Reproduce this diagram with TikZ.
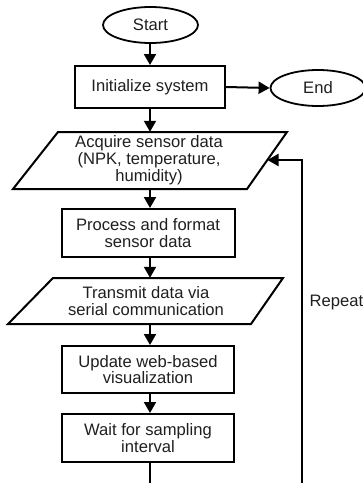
\documentclass[tikz,border=0pt]{standalone}
\usepackage{fontspec}
\setmainfont{Liberation Sans}
\usetikzlibrary{arrows.meta,shapes.geometric}

\tikzset{
  every node/.style={font=\fontsize{16.6}{16.8}\selectfont, text=black!88},
  link/.style={line width=2pt, draw=black},
  flow/.style={link, -{Triangle[length=11pt,width=12pt]}},
  terminal/.style={ellipse, draw, line width=1.8pt, minimum width=95pt,
    minimum height=36pt, inner sep=0pt},
  procbox/.style={rectangle, draw, line width=2pt, align=center,
    inner sep=0pt},
  iobox/.style={rectangle, draw=none, align=center, inner sep=0pt},
  ioshape/.style={line width=2pt, line join=miter, draw=black},
}

\begin{document}
\begin{tikzpicture}[x=1pt,y=-1pt]
  \useasboundingbox (0,0) rectangle (363,483);

  % terminals
  \node[terminal] (start) at (150.5,25) {Start};
  \node[terminal] (end) at (318,88) {End};

  % process steps
  \node[procbox, minimum width=150pt, minimum height=42pt] (init) at (150,87) {Initialize system};

  \node[iobox, minimum width=232pt, minimum height=57pt] (acq) at (149,160.5)
    {Acquire sensor data\\(NPK, temperature,\\humidity)};
  \draw[ioshape] (13,189) -- (58,132) -- (287,132) -- (247,189) -- cycle;

  \node[procbox, minimum width=173pt, minimum height=48pt] (proc) at (148,233)
    {Process and format\\sensor data};

  \node[iobox, minimum width=232pt, minimum height=46pt] (trans) at (146,301)
    {Transmit data via\\serial communication};
  \draw[ioshape] (8,324) -- (53,278) -- (283,278) -- (251,324) -- cycle;

  \node[procbox, minimum width=172pt, minimum height=47pt] (upd) at (148,369.5)
    {Update web-based\\visualization};

  \node[procbox, minimum width=172pt, minimum height=48pt] (wait) at (148,438)
    {Wait for sampling\\interval};

  % loop-back points
  \coordinate (waitout) at (150,492);
  \coordinate (loopbot) at (302,492);
  \coordinate (acqin) at (267.5,160);

  % connectors
  \draw[flow] (start.south -| 150,0) -- (init.north -| 150,0);
  \draw[flow] (init.east) -- (end.west);
  \draw[flow] (init.south -| 150,0) -- (acq.north -| 150,0);
  \draw[flow] (acq.south -| 150,0) -- (proc.north -| 150,0);
  \draw[flow] (proc.south -| 150,0) -- (trans.north -| 150,0);
  \draw[flow] (trans.south -| 150,0) -- (upd.north -| 150,0);
  \draw[flow] (upd.south -| 150,0) -- (wait.north -| 150,0);
  \draw[link] (wait.south -| 150,0) -- (waitout);
  \draw[flow] (loopbot) |- (acqin);

  \node[anchor=west, inner sep=0pt] (repeat) at (309.5,303) {Repeat};
\end{tikzpicture}
\end{document}
